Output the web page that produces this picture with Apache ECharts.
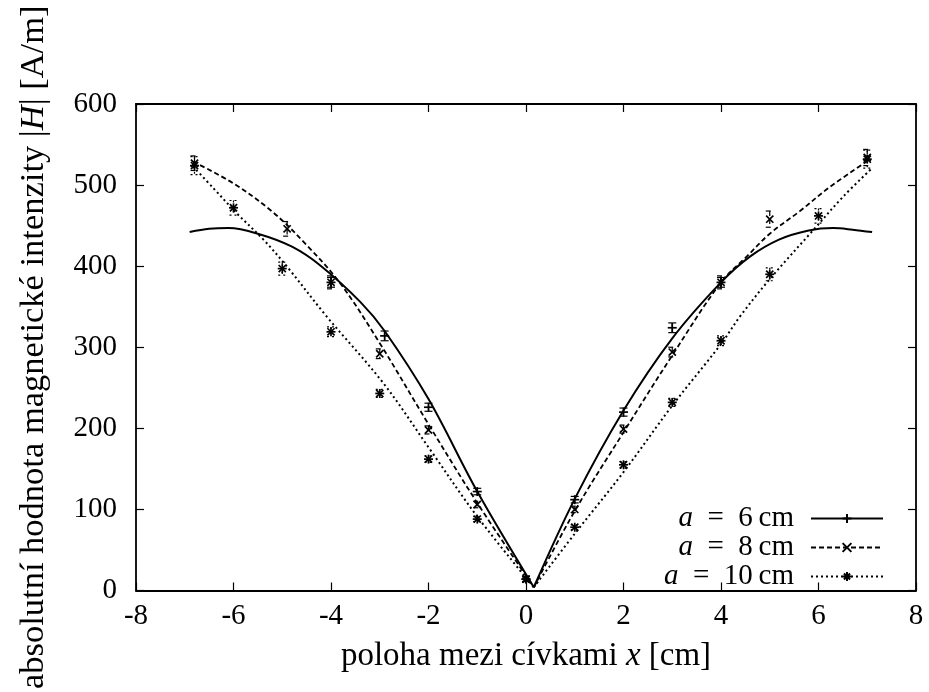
<!DOCTYPE html>
<html><head><meta charset="utf-8">
<script src="https://cdn.jsdelivr.net/npm/echarts@6/dist/echarts.min.js"></script>
<style>html,body{margin:0;padding:0;background:#fff}#c{width:929px;height:692px}</style>
</head><body><div id="c"></div><script>
// ---- data ----
const xTicks = [-8, -6, -4, -2, 0, 2, 4, 6, 8];
const yTicks = [0, 100, 200, 300, 400, 500, 600];
const legendLabels = ['6', '8', '10'];

// measured points (x, |H|, error)
const x6 = [-4, -2.9, -2, -1, 0, 1, 2, 3, 4];
const y6 = [380, 314, 226, 122, 14, 112, 220, 324, 380];
const e6 = [6, 6, 5, 4, 3, 4, 5, 6, 6];

const x8 = [-6.8, -4.9, -4, -3, -2, -1, 0, 1, 2, 3, 4, 5, 7];
const y8 = [527, 446, 380, 292, 198, 106, 14, 100, 199, 294, 380, 458, 534];
const e8 = [9, 9, 8, 6, 5, 4, 3, 4, 5, 6, 8, 10, 10];

const x10 = [-6.8, -6, -5, -4, -3, -2, -1, 0, 1, 2, 3, 4, 5, 6, 7];
const y10 = [524, 472, 397, 319, 243, 162, 88, 14, 78, 155, 232, 308, 390, 462, 532];
const e10 = [11, 9, 8, 6, 5, 4, 3, 3, 3, 4, 5, 6, 8, 9, 11];

// fitted curves, left and right branches
const fit6Lx = [-6.9, -6.5, -6.1, -5.5, -4.8, -4.2, -3.4, -2.9, -2.0, -1.0, 0.16];
const fit6Ly = [442, 446, 447, 440, 424, 400, 356, 320, 236, 122, 4];
const fit6Rx = [0.16, 1.0, 2.0, 3.0, 4.0, 4.6, 5.2, 5.8, 6.3, 6.7, 7.1];
const fit6Ry = [4, 113, 222, 311, 380, 412, 433, 444, 447, 445, 442];

const fit8Lx = [-6.83, -6.0, -5.2, -4.5, -3.8, -3.0, -2.0, -1.0, 0.16];
const fit8Ly = [529, 502, 467, 426, 378, 305, 205, 108, 4];
const fit8Rx = [0.16, 1.0, 2.0, 3.0, 4.0, 4.53, 5.0, 5.62, 6.24, 6.99];
const fit8Ry = [4, 98, 195, 290, 380, 412, 440, 468, 498, 529];

const fit10Lx = [-6.83, -6.41, -5.93, -5.39, -4.91, -4.09, -2.93, -1.97, -1.01, 0.16];
const fit10Ly = [523, 496, 465, 433, 400, 338, 256, 174, 92, 4];
const fit10Rx = [0.16, 1.0, 2.0, 3.0, 4.0, 4.39, 5.0, 5.9, 6.51, 7.1];
const fit10Ry = [4, 70, 146, 228, 304, 338, 384, 445, 486, 521];

// ---- chart ----
const FONT = 'Liberation Serif';
const zip = (a, b) => a.map((v, i) => [v, b[i]]);
const zip3 = (a, b, c) => a.map((v, i) => [v, b[i], c[i]]);

const names = legendLabels.map(s => 'a = ' + s + ' cm');
const dashes = ['solid', [5, 3], [2, 3]];
const widths = [2, 1.8, 2];
const markerPaths = [
  'path://M0,5H10M5,0V10',
  'path://M0,0L10,10M10,0L0,10',
  'path://M0,5H10M5,0V10M1.5,1.5L8.5,8.5M8.5,1.5L1.5,8.5'
];
const markerKinds = ['plus', 'cross', 'star'];

function fitSeries(idx, xs, ys) {
  return {
    type: 'line', name: names[idx], data: zip(xs, ys),
    smooth: 0.35, showSymbol: false, symbol: markerPaths[idx], symbolSize: 9,
    lineStyle: { color: '#000', width: widths[idx], type: dashes[idx] },
    itemStyle: { color: '#000', borderColor: '#000', borderWidth: 1.4 },
    emphasis: { disabled: true }, silent: true, z: 2
  };
}

function pointSeries(idx, data) {
  const kind = markerKinds[idx];
  const dash = dashes[idx] === 'solid' ? null : dashes[idx];
  return {
    type: 'custom', name: 'pts' + idx, data: data, silent: true, z: 3,
    renderItem: function (params, api) {
      const x = api.value(0), y = api.value(1), e = api.value(2);
      const p = api.coord([x, y]);
      const t = api.coord([x, y + e]);
      const b = api.coord([x, y - e]);
      const cap = 4, r = 4.5, rd = 3.6;
      const thin = { stroke: '#000', lineWidth: 1.2, lineDash: dash };
      const solid = { stroke: '#000', lineWidth: 1.7 };
      const ch = [
        { type: 'line', shape: { x1: t[0], y1: t[1], x2: b[0], y2: b[1] }, style: thin },
        { type: 'line', shape: { x1: t[0] - cap, y1: t[1], x2: t[0] + cap, y2: t[1] }, style: thin },
        { type: 'line', shape: { x1: b[0] - cap, y1: b[1], x2: b[0] + cap, y2: b[1] }, style: thin }
      ];
      if (kind === 'plus' || kind === 'star') {
        ch.push({ type: 'line', shape: { x1: p[0] - r, y1: p[1], x2: p[0] + r, y2: p[1] }, style: solid });
        ch.push({ type: 'line', shape: { x1: p[0], y1: p[1] - r, x2: p[0], y2: p[1] + r }, style: solid });
      }
      if (kind === 'cross' || kind === 'star') {
        ch.push({ type: 'line', shape: { x1: p[0] - rd, y1: p[1] - rd, x2: p[0] + rd, y2: p[1] + rd }, style: solid });
        ch.push({ type: 'line', shape: { x1: p[0] - rd, y1: p[1] + rd, x2: p[0] + rd, y2: p[1] - rd }, style: solid });
      }
      return { type: 'group', children: ch };
    }
  };
}

function axisCommon() {
  return {
    axisLine: { show: true, onZero: false, lineStyle: { color: '#000', width: 1.8 } },
    axisTick: { show: true, inside: true, length: 8, lineStyle: { color: '#000', width: 1.2 } },
    splitLine: { show: false }
  };
}

const XTITLE_SIZE = 33;
const YTITLE_SIZE = 34.5;
const chart = echarts.init(document.getElementById('c'), null, { renderer: 'canvas' });
chart.setOption({
  animation: false,
  backgroundColor: '#fff',
  grid: { left: 136, right: 13, top: 104, bottom: 100, containLabel: false },
  xAxis: [
    Object.assign({
      type: 'value', min: xTicks[0], max: xTicks[xTicks.length - 1], interval: 2, position: 'bottom',
      axisLabel: { fontFamily: FONT, fontSize: 29, color: '#000', margin: 11 },
      name: 'poloha mezi cívkami {i|x} [cm]', nameLocation: 'middle', nameGap: 49,
      nameTextStyle: { fontFamily: FONT, fontSize: XTITLE_SIZE, color: '#000',
        rich: { i: { fontFamily: FONT, fontSize: XTITLE_SIZE, fontStyle: 'italic', color: '#000' } } }
    }, axisCommon()),
    Object.assign({
      type: 'value', min: xTicks[0], max: xTicks[xTicks.length - 1], interval: 2, position: 'top',
      axisLabel: { show: false }
    }, axisCommon())
  ],
  yAxis: [
    Object.assign({
      type: 'value', min: yTicks[0], max: yTicks[yTicks.length - 1], interval: 100, position: 'left',
      axisLabel: { fontFamily: FONT, fontSize: 29, color: '#000', margin: 19 },
      name: 'absolutní hodnota magnetické intenzity |{i|H}| [A/m]', nameLocation: 'middle', nameGap: 85,
      nameRotate: 90,
      nameTextStyle: { fontFamily: FONT, fontSize: YTITLE_SIZE, color: '#000',
        rich: { i: { fontFamily: FONT, fontSize: YTITLE_SIZE, fontStyle: 'italic', color: '#000' } } }
    }, axisCommon()),
    Object.assign({
      type: 'value', min: yTicks[0], max: yTicks[yTicks.length - 1], interval: 100, position: 'right',
      axisLabel: { show: false }
    }, axisCommon())
  ],
  legend: {
    data: names, orient: 'vertical', align: 'right', right: 45, top: 504,
    padding: 0, itemGap: 0, itemWidth: 72, itemHeight: 11,
    selectedMode: false,
    formatter: function (n) { return '{i|a}\u2002=\u2002' + n.replace('a = ', '').replace(' cm', '') + '\u2009cm'; },
    textStyle: { fontFamily: FONT, fontSize: 29, color: '#000', lineHeight: 26, padding: [0, 12, 0, 0],
      rich: { i: { fontFamily: FONT, fontSize: 29, fontStyle: 'italic', color: '#000', lineHeight: 26 } } }
  },
  series: [
    fitSeries(0, fit6Lx, fit6Ly), fitSeries(0, fit6Rx, fit6Ry),
    fitSeries(1, fit8Lx, fit8Ly), fitSeries(1, fit8Rx, fit8Ry),
    fitSeries(2, fit10Lx, fit10Ly), fitSeries(2, fit10Rx, fit10Ry),
    pointSeries(0, zip3(x6, y6, e6)),
    pointSeries(1, zip3(x8, y8, e8)),
    pointSeries(2, zip3(x10, y10, e10))
  ]
});
</script></body></html>
